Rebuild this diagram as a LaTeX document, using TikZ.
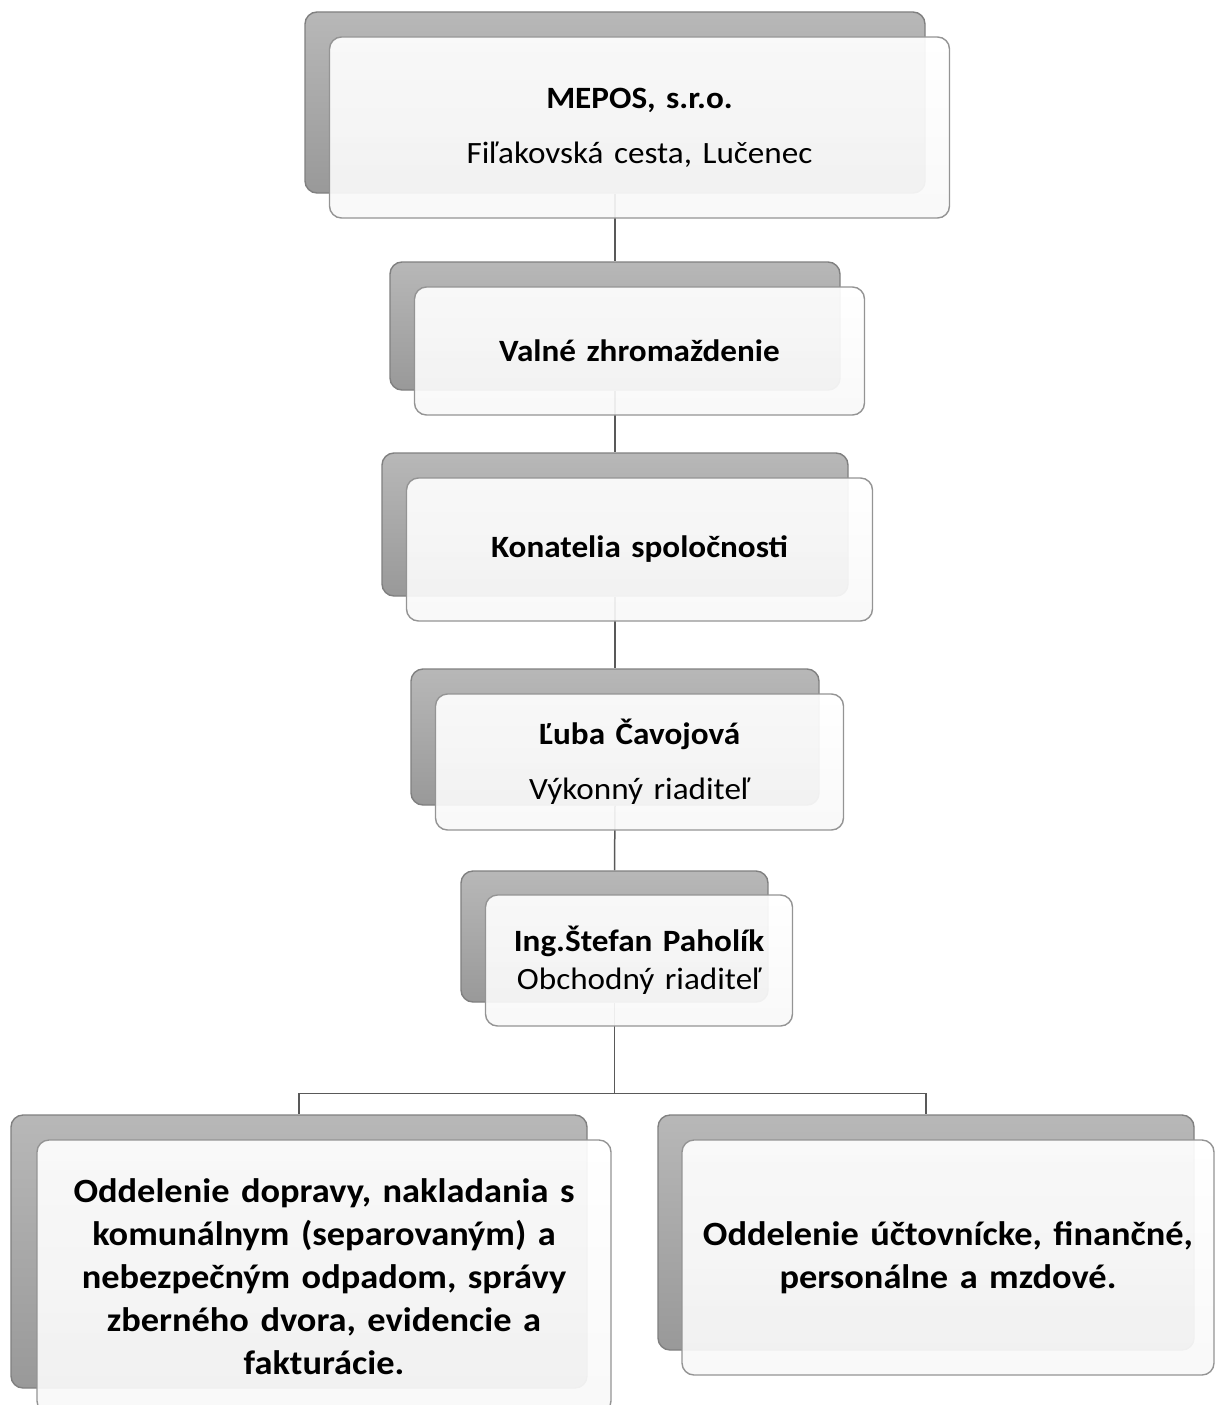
\documentclass[tikz,border=0pt]{standalone}
\usepackage{fontspec}
\setmainfont[FakeStretch=1.07,WordSpace=1.4]{Carlito}
\usetikzlibrary{calc,backgrounds}
\definecolor{backtop}{gray}{0.72}
\definecolor{backbot}{gray}{0.60}
\definecolor{backline}{gray}{0.50}
\definecolor{frontline}{gray}{0.58}
\definecolor{linkline}{gray}{0.35}

\tikzset{
 backbox/.style 2 args={rounded corners=12pt, draw=backline, line width=1.4pt,
   top color=backtop, bottom color=backbot, minimum width=#1, minimum height=#2, inner sep=0pt},
 frontbox/.style 2 args={rounded corners=12pt, draw=frontline, line width=1.4pt,
   top color=white, bottom color=gray!5, fill opacity=0.92, text opacity=1,
   minimum width=#1, minimum height=#2, inner sep=0pt, align=center},
 small/.style={font=\fontsize{31}{38}\selectfont},
 big/.style={font=\fontsize{34}{43}\selectfont\bfseries},
 link/.style={draw=linkline, line width=1.5pt},
}

\begin{document}
\begin{tikzpicture}[x=1pt,y=-1pt]
\useasboundingbox (0,0) rectangle (1215,1405);
% company
\node[backbox={620pt}{181pt}] (mepos-b) at (615,102.5) {};
\node[frontbox={620pt}{181pt}, small] (mepos) at ([shift={(24.5,25)}]mepos-b.center)
  {\textbf{MEPOS, s.r.o.}\\[17pt]Fiľakovská cesta, Lučenec};
% general meeting
\node[backbox={450pt}{128pt}] (valne-b) at (615,326) {};
\node[frontbox={450pt}{128pt}, small] (valne) at ([shift={(24.5,25)}]valne-b.center)
  {\textbf{Valné zhromaždenie}};
% executives
\node[backbox={466pt}{143pt}] (konatelia-b) at (615,524.5) {};
\node[frontbox={466pt}{143pt}, small] (konatelia) at ([shift={(24.5,25)}]konatelia-b.center)
  {\textbf{Konatelia spoločnosti}};
% director
\node[backbox={408pt}{136pt}] (cavojova-b) at (615,737) {};
\node[frontbox={408pt}{136pt}, small] (cavojova) at ([shift={(24.5,25)}]cavojova-b.center)
  {\textbf{Ľuba Čavojová}\\[17pt]Výkonný riaditeľ};
% sales director
\node[backbox={307pt}{131pt}] (paholik-b) at (614.5,936.5) {};
\node[frontbox={307pt}{131pt}, small] (paholik) at ([shift={(24.5,24)}]paholik-b.center)
  {\textbf{Ing.Štefan Paholík}\\Obchodný riaditeľ};
% departments
\node[backbox={576pt}{273pt}] (doprava-b) at (299,1251.5) {};
\node[frontbox={574pt}{273pt}, big] (doprava) at ([shift={(25,25)}]doprava-b.center)
  {Oddelenie dopravy, nakladania s\\komunálnym (separovaným) a\\nebezpečným odpadom, správy\\zberného dvora, evidencie a\\fakturácie.};
\node[backbox={536pt}{235pt}] (uctovne-b) at (926,1232.5) {};
\node[frontbox={532pt}{235pt}, big] (uctovne) at ([shift={(22,25)}]uctovne-b.center)
  {Oddelenie účtovnícke, finančné,\\personálne a mzdové.};
% connectors
\begin{scope}[on background layer]
\draw[link] (mepos-b.south) -- (valne-b.north);
\draw[link] (valne-b.south) -- (konatelia-b.north);
\draw[link] (konatelia-b.south) -- (cavojova-b.north);
\draw[link] (cavojova-b.south) -- (paholik-b.north);
\draw[link] (paholik-b.south) -- ++(0,91) coordinate (split);
\draw[link] (split) -| (doprava-b.north);
\draw[link] (split) -| (uctovne-b.north);
\end{scope}
\end{tikzpicture}
\end{document}
